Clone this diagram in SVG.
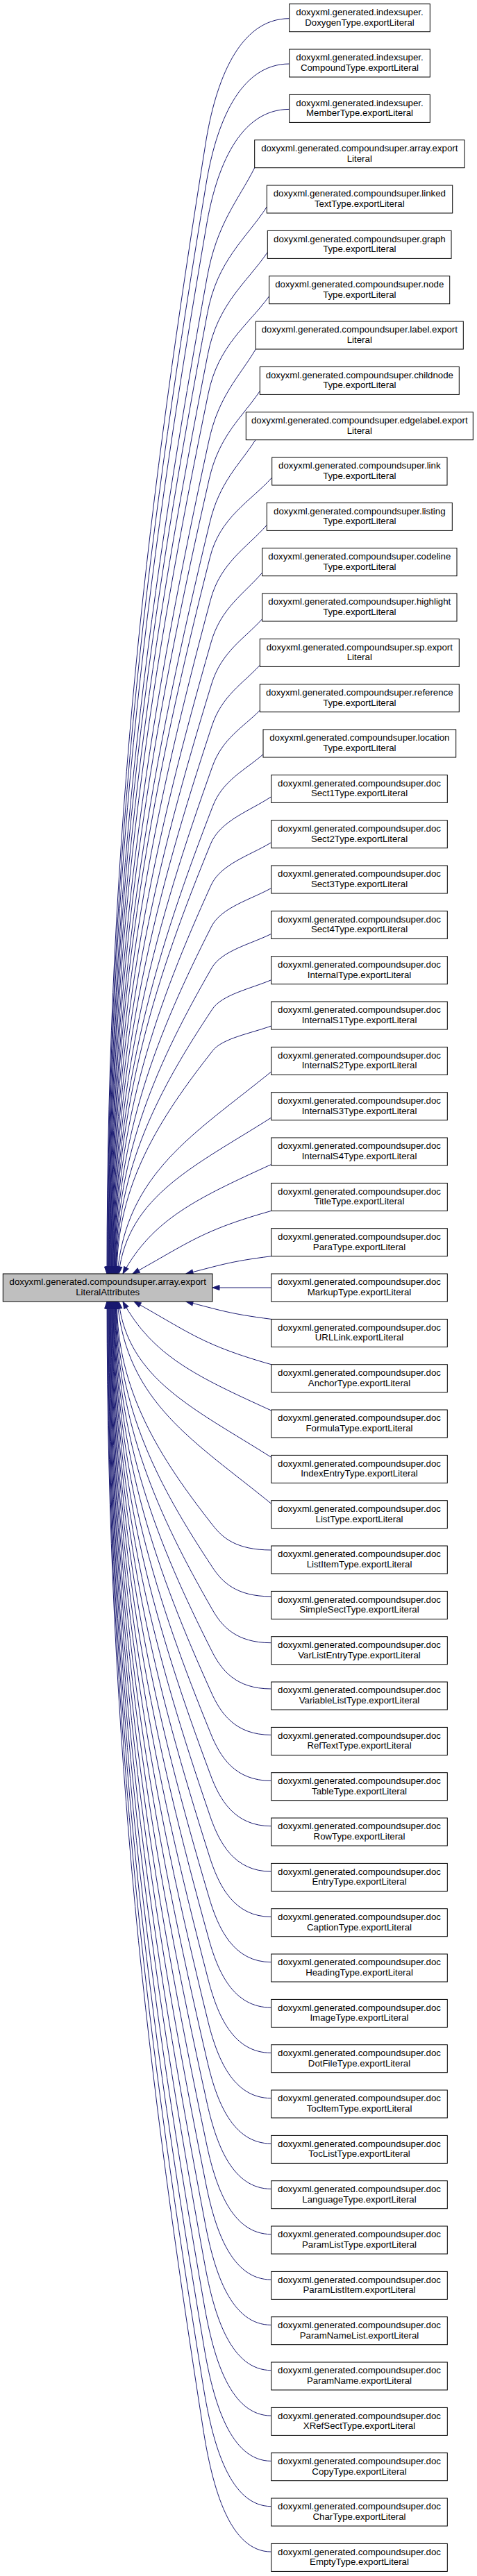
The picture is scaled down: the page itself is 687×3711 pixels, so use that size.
<svg xmlns="http://www.w3.org/2000/svg" width="687" height="3711" viewBox="0 0 687 3711">
<style>
.n rect{fill:#ffffff;stroke:#000000;stroke-width:1}
.root rect{fill:#bfbfbf}
.n text{font-family:"Liberation Sans",Arial,Helvetica,sans-serif;font-size:13.25px;text-anchor:middle;fill:#000000}
.e path{fill:none;stroke:#191970;stroke-width:1;marker-end:url(#arr)}
</style>
<defs>
<marker id="arr" viewBox="-1 -5 12 10" refX="10" refY="0" markerWidth="12" markerHeight="10" markerUnits="userSpaceOnUse" orient="auto">
<path d="M0,-3.5 L10,0 L0,3.5 z" fill="#191970" stroke="#191970" stroke-width="1"/>
</marker>
</defs>
<rect width="687" height="3711" fill="#ffffff"/>
<g id="connectors" class="e">
<path d="M416.7,26.7 C344.3,26.7 310.2,117.1 296,207.5 C217.9,695.7 154,1184 154,1835"/>
<path d="M416.7,92 C344.7,92 310.9,179.1 296.7,266.3 C218.6,736.9 154.7,1207.5 154.7,1835"/>
<path d="M416.7,157.4 C345.1,157.4 311.5,241.3 297.3,325.2 C219.2,778.1 155.3,1231.1 155.3,1835"/>
<path d="M366.7,241.7 C342.7,289.5 312.2,321.3 298,401 C219.9,831.2 156,1261.4 156,1835"/>
<path d="M384.3,298 C354.3,344.1 312.8,374.8 298.6,451.7 C220.5,866.7 156.6,1281.7 156.6,1835"/>
<path d="M385.3,363.4 C355.2,407.5 313.5,437 299.3,510.6 C221.2,907.9 157.3,1305.2 157.3,1835"/>
<path d="M387.7,426.7 C357,468.9 314.1,497.1 299.9,567.5 C221.8,947.7 157.9,1328 157.9,1835"/>
<path d="M368.3,503 C344.6,543 314.8,569.6 300.6,636.2 C222.5,995.8 158.6,1355.5 158.6,1835"/>
<path d="M374.3,563.4 C348.7,601.5 315.4,627 301.2,690.6 C223.1,1033.9 159.2,1377.2 159.2,1835"/>
<path d="M368,633.7 C344.9,669.7 316.1,693.7 301.9,753.8 C223.8,1078.2 159.9,1402.5 159.9,1835"/>
<path d="M391.7,688 C360.5,722.4 316.7,745.3 302.5,802.7 C224.4,1112.4 160.5,1422.1 160.5,1835"/>
<path d="M384.3,756.4 C355.9,788.8 317.4,810.4 303.2,864.3 C225.1,1155.5 161.2,1446.7 161.2,1835"/>
<path d="M377.7,825 C351.8,855.3 318,875.5 303.8,926 C225.7,1198.7 161.8,1471.4 161.8,1835"/>
<path d="M377.7,891.7 C352.1,920 318.7,938.8 304.5,986 C226.4,1240.7 162.5,1495.4 162.5,1835"/>
<path d="M374.3,958.3 C350.1,984.6 319.3,1002.2 305.1,1046 C227,1282.7 163.1,1519.4 163.1,1835"/>
<path d="M374.3,1023.3 C350.3,1047.7 320,1063.9 305.8,1104.5 C227.7,1323.7 163.8,1542.8 163.8,1835"/>
<path d="M379,1086.7 C353.6,1109.1 320.6,1124.1 306.4,1161.5 C228.3,1363.5 164.4,1565.6 164.4,1835"/>
<path d="M390.7,1147.7 C360,1168.3 316.9,1182 303.1,1216.4 C227.2,1402 165.1,1587.6 165.1,1835"/>
<path d="M390.7,1213.7 C360.2,1232.3 317.5,1244.7 303.7,1275.8 C227.8,1443.6 165.7,1611.3 165.7,1835"/>
<path d="M390.7,1279.5 C360.5,1296.2 318.2,1307.3 304.4,1335.1 C228.5,1485.1 166.4,1635 166.4,1835"/>
<path d="M390.7,1345.4 C360.7,1360.1 318.8,1369.9 305,1394.4 C229.1,1526.6 167,1658.7 167,1835"/>
<path d="M390.7,1411.7 C360.9,1424.4 319.5,1432.8 305.7,1454 C229.8,1568.3 167.7,1682.6 167.7,1835"/>
<path d="M390.7,1478 C361.2,1488.7 320.1,1495.8 306.3,1513.7 C230.4,1610.1 168.3,1706.5 168.3,1835"/>
<path d="M390.7,1543.9 C279.8,1634.1 182.3,1689.4 169,1835"/>
<path d="M390.7,1610.1 C280.9,1679.8 184.2,1722.5 171,1835"/>
<path d="M390.7,1677.5 C283.9,1726.3 219.7,1756.3 177,1835"/>
<path d="M390.7,1744.4 C290.9,1772.5 272.9,1789.7 191,1835"/>
<path d="M390.7,1809.7 C329.4,1817.5 318.3,1822.4 268,1835"/>
<path d="M390.7,1855 L306,1855"/>
<path d="M390.7,1900.4 C329.4,1892.5 318.3,1887.7 268,1875"/>
<path d="M390.7,1965.7 C291.9,1937.6 274.1,1920.4 193,1875"/>
<path d="M390.7,2032 C283.9,1983.3 219.7,1953.5 177,1875"/>
<path d="M390.7,2099.4 C280.9,2029.8 184.2,1987.2 171,1875"/>
<path d="M390.7,2166.2 C279.9,2075.9 182.3,2020.6 169,1875"/>
<path d="M390.7,2233 C340.1,2233 320.2,2215.1 306.4,2197.2 C230.5,2100.5 168.4,2003.9 168.4,1875"/>
<path d="M390.7,2299.9 C339.7,2299.9 319.5,2278.6 305.7,2257.4 C229.8,2142.7 167.7,2028 167.7,1875"/>
<path d="M390.7,2366.7 C339.3,2366.7 318.9,2342.1 305.1,2317.5 C229.2,2184.7 167.1,2052 167.1,1875"/>
<path d="M390.7,2433 C338.9,2433 318.2,2405.1 304.4,2377.2 C228.5,2226.5 166.4,2075.9 166.4,1875"/>
<path d="M390.7,2499.4 C338.6,2499.4 317.6,2468.2 303.8,2437 C227.9,2268.4 165.8,2099.8 165.8,1875"/>
<path d="M390.7,2565.4 C338.1,2565.4 316.9,2530.9 303.1,2496.4 C227.2,2310 165.1,2123.5 165.1,1875"/>
<path d="M390.7,2630.7 C337.8,2630.7 316.3,2592.9 302.5,2555.1 C226.6,2351.1 164.5,2147.1 164.5,1875"/>
<path d="M390.7,2696.1 C337.4,2696.1 315.6,2655.1 301.8,2614 C225.9,2392.3 163.8,2170.6 163.8,1875"/>
<path d="M390.7,2761.4 C337,2761.4 315,2717.1 301.2,2672.8 C225.3,2433.5 163.2,2194.1 163.2,1875"/>
<path d="M390.7,2826.7 C336.6,2826.7 314.3,2779.1 300.5,2731.5 C224.6,2474.5 162.5,2217.6 162.5,1875"/>
<path d="M390.7,2892.1 C336.2,2892.1 313.7,2841.3 299.9,2790.4 C224,2515.8 161.9,2241.2 161.9,1875"/>
<path d="M390.7,2957.4 C335.8,2957.4 313,2903.3 299.2,2849.2 C223.3,2557 161.2,2264.7 161.2,1875"/>
<path d="M390.7,3022.7 C335.4,3022.7 312.4,2965.3 298.6,2907.9 C222.7,2598 160.6,2288.2 160.6,1875"/>
<path d="M390.7,3088.1 C335,3088.1 311.7,3027.5 297.9,2966.8 C222,2639.3 159.9,2311.7 159.9,1875"/>
<path d="M390.7,3153.4 C334.7,3153.4 311.1,3089.5 297.3,3025.6 C221.4,2680.4 159.3,2335.2 159.3,1875"/>
<path d="M390.7,3218.7 C334.2,3218.7 310.4,3151.5 296.6,3084.3 C220.7,2721.5 158.6,2358.7 158.6,1875"/>
<path d="M390.7,3284.1 C333.9,3284.1 309.8,3213.7 296,3143.2 C220.1,2762.7 158,2382.3 158,1875"/>
<path d="M390.7,3349.4 C333.5,3349.4 309.1,3275.7 295.3,3202 C219.4,2803.9 157.3,2405.8 157.3,1875"/>
<path d="M390.7,3414.7 C333.1,3414.7 308.5,3337.7 294.7,3260.7 C218.8,2845 156.7,2429.3 156.7,1875"/>
<path d="M390.7,3480.1 C332.7,3480.1 307.8,3399.9 294,3319.6 C218.1,2886.2 156,2452.8 156,1875"/>
<path d="M390.7,3545.4 C332.3,3545.4 307.2,3461.9 293.4,3378.4 C217.5,2927.4 155.4,2476.3 155.4,1875"/>
<path d="M390.7,3610.7 C331.9,3610.7 306.5,3523.9 292.7,3437.1 C216.8,2968.5 154.7,2499.9 154.7,1875"/>
<path d="M390.7,3676.1 C331.5,3676.1 305.9,3586.1 292.1,3496 C216.2,3009.7 154.1,2523.4 154.1,1875"/>
</g>
<g id="root" class="n root" transform="translate(0,1835)"><rect x="4.3" y="0" width="301.7" height="40"/><text x="155.2" y="16.3">doxyxml.generated.compoundsuper.array.export</text><text x="155.2" y="31">LiteralAttributes</text></g>
<g id="n0" class="n" transform="translate(0,5.7)"><rect x="416.7" width="202.6" height="40"/><text x="518" y="16.3">doxyxml.generated.indexsuper.</text><text x="518" y="31">DoxygenType.exportLiteral</text></g>
<g id="n1" class="n" transform="translate(0,71)"><rect x="416.7" width="202.6" height="40"/><text x="518" y="16.3">doxyxml.generated.indexsuper.</text><text x="518" y="31">CompoundType.exportLiteral</text></g>
<g id="n2" class="n" transform="translate(0,136.4)"><rect x="416.7" width="202.6" height="40"/><text x="518" y="16.3">doxyxml.generated.indexsuper.</text><text x="518" y="31">MemberType.exportLiteral</text></g>
<g id="n3" class="n" transform="translate(0,201.7)"><rect x="366.7" width="302.3" height="40"/><text x="517.8" y="16.3">doxyxml.generated.compoundsuper.array.export</text><text x="517.8" y="31">Literal</text></g>
<g id="n4" class="n" transform="translate(0,267)"><rect x="384.3" width="267.4" height="40"/><text x="517.8" y="16.3">doxyxml.generated.compoundsuper.linked</text><text x="517.8" y="31">TextType.exportLiteral</text></g>
<g id="n5" class="n" transform="translate(0,332.4)"><rect x="385.3" width="264.7" height="40"/><text x="517.8" y="16.3">doxyxml.generated.compoundsuper.graph</text><text x="517.8" y="31">Type.exportLiteral</text></g>
<g id="n6" class="n" transform="translate(0,397.7)"><rect x="387.7" width="260" height="40"/><text x="517.8" y="16.3">doxyxml.generated.compoundsuper.node</text><text x="517.8" y="31">Type.exportLiteral</text></g>
<g id="n7" class="n" transform="translate(0,463)"><rect x="368.3" width="299" height="40"/><text x="517.8" y="16.3">doxyxml.generated.compoundsuper.label.export</text><text x="517.8" y="31">Literal</text></g>
<g id="n8" class="n" transform="translate(0,528.4)"><rect x="374.3" width="287" height="40"/><text x="517.8" y="16.3">doxyxml.generated.compoundsuper.childnode</text><text x="517.8" y="31">Type.exportLiteral</text></g>
<g id="n9" class="n" transform="translate(0,593.7)"><rect x="354.3" width="327" height="40"/><text x="517.8" y="16.3">doxyxml.generated.compoundsuper.edgelabel.export</text><text x="517.8" y="31">Literal</text></g>
<g id="n10" class="n" transform="translate(0,659)"><rect x="391.7" width="252.3" height="40"/><text x="517.8" y="16.3">doxyxml.generated.compoundsuper.link</text><text x="517.8" y="31">Type.exportLiteral</text></g>
<g id="n11" class="n" transform="translate(0,724.4)"><rect x="384.3" width="267" height="40"/><text x="517.8" y="16.3">doxyxml.generated.compoundsuper.listing</text><text x="517.8" y="31">Type.exportLiteral</text></g>
<g id="n12" class="n" transform="translate(0,789.7)"><rect x="377.7" width="280.3" height="40"/><text x="517.8" y="16.3">doxyxml.generated.compoundsuper.codeline</text><text x="517.8" y="31">Type.exportLiteral</text></g>
<g id="n13" class="n" transform="translate(0,855)"><rect x="377.7" width="280.3" height="40"/><text x="517.8" y="16.3">doxyxml.generated.compoundsuper.highlight</text><text x="517.8" y="31">Type.exportLiteral</text></g>
<g id="n14" class="n" transform="translate(0,920.4)"><rect x="374.3" width="287" height="40"/><text x="517.8" y="16.3">doxyxml.generated.compoundsuper.sp.export</text><text x="517.8" y="31">Literal</text></g>
<g id="n15" class="n" transform="translate(0,985.7)"><rect x="374.3" width="287" height="40"/><text x="517.8" y="16.3">doxyxml.generated.compoundsuper.reference</text><text x="517.8" y="31">Type.exportLiteral</text></g>
<g id="n16" class="n" transform="translate(0,1051)"><rect x="379" width="277.7" height="40"/><text x="517.8" y="16.3">doxyxml.generated.compoundsuper.location</text><text x="517.8" y="31">Type.exportLiteral</text></g>
<g id="n17" class="n" transform="translate(0,1116.4)"><rect x="390.7" width="253.6" height="40"/><text x="517.5" y="16.3">doxyxml.generated.compoundsuper.doc</text><text x="517.5" y="31">Sect1Type.exportLiteral</text></g>
<g id="n18" class="n" transform="translate(0,1181.7)"><rect x="390.7" width="253.6" height="40"/><text x="517.5" y="16.3">doxyxml.generated.compoundsuper.doc</text><text x="517.5" y="31">Sect2Type.exportLiteral</text></g>
<g id="n19" class="n" transform="translate(0,1247)"><rect x="390.7" width="253.6" height="40"/><text x="517.5" y="16.3">doxyxml.generated.compoundsuper.doc</text><text x="517.5" y="31">Sect3Type.exportLiteral</text></g>
<g id="n20" class="n" transform="translate(0,1312.4)"><rect x="390.7" width="253.6" height="40"/><text x="517.5" y="16.3">doxyxml.generated.compoundsuper.doc</text><text x="517.5" y="31">Sect4Type.exportLiteral</text></g>
<g id="n21" class="n" transform="translate(0,1377.7)"><rect x="390.7" width="253.6" height="40"/><text x="517.5" y="16.3">doxyxml.generated.compoundsuper.doc</text><text x="517.5" y="31">InternalType.exportLiteral</text></g>
<g id="n22" class="n" transform="translate(0,1443)"><rect x="390.7" width="253.6" height="40"/><text x="517.5" y="16.3">doxyxml.generated.compoundsuper.doc</text><text x="517.5" y="31">InternalS1Type.exportLiteral</text></g>
<g id="n23" class="n" transform="translate(0,1508.4)"><rect x="390.7" width="253.6" height="40"/><text x="517.5" y="16.3">doxyxml.generated.compoundsuper.doc</text><text x="517.5" y="31">InternalS2Type.exportLiteral</text></g>
<g id="n24" class="n" transform="translate(0,1573.7)"><rect x="390.7" width="253.6" height="40"/><text x="517.5" y="16.3">doxyxml.generated.compoundsuper.doc</text><text x="517.5" y="31">InternalS3Type.exportLiteral</text></g>
<g id="n25" class="n" transform="translate(0,1639)"><rect x="390.7" width="253.6" height="40"/><text x="517.5" y="16.3">doxyxml.generated.compoundsuper.doc</text><text x="517.5" y="31">InternalS4Type.exportLiteral</text></g>
<g id="n26" class="n" transform="translate(0,1704.4)"><rect x="390.7" width="253.6" height="40"/><text x="517.5" y="16.3">doxyxml.generated.compoundsuper.doc</text><text x="517.5" y="31">TitleType.exportLiteral</text></g>
<g id="n27" class="n" transform="translate(0,1769.7)"><rect x="390.7" width="253.6" height="40"/><text x="517.5" y="16.3">doxyxml.generated.compoundsuper.doc</text><text x="517.5" y="31">ParaType.exportLiteral</text></g>
<g id="n28" class="n" transform="translate(0,1835)"><rect x="390.7" width="253.6" height="40"/><text x="517.5" y="16.3">doxyxml.generated.compoundsuper.doc</text><text x="517.5" y="31">MarkupType.exportLiteral</text></g>
<g id="n29" class="n" transform="translate(0,1900.4)"><rect x="390.7" width="253.6" height="40"/><text x="517.5" y="16.3">doxyxml.generated.compoundsuper.doc</text><text x="517.5" y="31">URLLink.exportLiteral</text></g>
<g id="n30" class="n" transform="translate(0,1965.7)"><rect x="390.7" width="253.6" height="40"/><text x="517.5" y="16.3">doxyxml.generated.compoundsuper.doc</text><text x="517.5" y="31">AnchorType.exportLiteral</text></g>
<g id="n31" class="n" transform="translate(0,2031)"><rect x="390.7" width="253.6" height="40"/><text x="517.5" y="16.3">doxyxml.generated.compoundsuper.doc</text><text x="517.5" y="31">FormulaType.exportLiteral</text></g>
<g id="n32" class="n" transform="translate(0,2096.4)"><rect x="390.7" width="253.6" height="40"/><text x="517.5" y="16.3">doxyxml.generated.compoundsuper.doc</text><text x="517.5" y="31">IndexEntryType.exportLiteral</text></g>
<g id="n33" class="n" transform="translate(0,2161.7)"><rect x="390.7" width="253.6" height="40"/><text x="517.5" y="16.3">doxyxml.generated.compoundsuper.doc</text><text x="517.5" y="31">ListType.exportLiteral</text></g>
<g id="n34" class="n" transform="translate(0,2227)"><rect x="390.7" width="253.6" height="40"/><text x="517.5" y="16.3">doxyxml.generated.compoundsuper.doc</text><text x="517.5" y="31">ListItemType.exportLiteral</text></g>
<g id="n35" class="n" transform="translate(0,2292.4)"><rect x="390.7" width="253.6" height="40"/><text x="517.5" y="16.3">doxyxml.generated.compoundsuper.doc</text><text x="517.5" y="31">SimpleSectType.exportLiteral</text></g>
<g id="n36" class="n" transform="translate(0,2357.7)"><rect x="390.7" width="253.6" height="40"/><text x="517.5" y="16.3">doxyxml.generated.compoundsuper.doc</text><text x="517.5" y="31">VarListEntryType.exportLiteral</text></g>
<g id="n37" class="n" transform="translate(0,2423)"><rect x="390.7" width="253.6" height="40"/><text x="517.5" y="16.3">doxyxml.generated.compoundsuper.doc</text><text x="517.5" y="31">VariableListType.exportLiteral</text></g>
<g id="n38" class="n" transform="translate(0,2488.4)"><rect x="390.7" width="253.6" height="40"/><text x="517.5" y="16.3">doxyxml.generated.compoundsuper.doc</text><text x="517.5" y="31">RefTextType.exportLiteral</text></g>
<g id="n39" class="n" transform="translate(0,2553.7)"><rect x="390.7" width="253.6" height="40"/><text x="517.5" y="16.3">doxyxml.generated.compoundsuper.doc</text><text x="517.5" y="31">TableType.exportLiteral</text></g>
<g id="n40" class="n" transform="translate(0,2619)"><rect x="390.7" width="253.6" height="40"/><text x="517.5" y="16.3">doxyxml.generated.compoundsuper.doc</text><text x="517.5" y="31">RowType.exportLiteral</text></g>
<g id="n41" class="n" transform="translate(0,2684.4)"><rect x="390.7" width="253.6" height="40"/><text x="517.5" y="16.3">doxyxml.generated.compoundsuper.doc</text><text x="517.5" y="31">EntryType.exportLiteral</text></g>
<g id="n42" class="n" transform="translate(0,2749.7)"><rect x="390.7" width="253.6" height="40"/><text x="517.5" y="16.3">doxyxml.generated.compoundsuper.doc</text><text x="517.5" y="31">CaptionType.exportLiteral</text></g>
<g id="n43" class="n" transform="translate(0,2815)"><rect x="390.7" width="253.6" height="40"/><text x="517.5" y="16.3">doxyxml.generated.compoundsuper.doc</text><text x="517.5" y="31">HeadingType.exportLiteral</text></g>
<g id="n44" class="n" transform="translate(0,2880.4)"><rect x="390.7" width="253.6" height="40"/><text x="517.5" y="16.3">doxyxml.generated.compoundsuper.doc</text><text x="517.5" y="31">ImageType.exportLiteral</text></g>
<g id="n45" class="n" transform="translate(0,2945.7)"><rect x="390.7" width="253.6" height="40"/><text x="517.5" y="16.3">doxyxml.generated.compoundsuper.doc</text><text x="517.5" y="31">DotFileType.exportLiteral</text></g>
<g id="n46" class="n" transform="translate(0,3011)"><rect x="390.7" width="253.6" height="40"/><text x="517.5" y="16.3">doxyxml.generated.compoundsuper.doc</text><text x="517.5" y="31">TocItemType.exportLiteral</text></g>
<g id="n47" class="n" transform="translate(0,3076.4)"><rect x="390.7" width="253.6" height="40"/><text x="517.5" y="16.3">doxyxml.generated.compoundsuper.doc</text><text x="517.5" y="31">TocListType.exportLiteral</text></g>
<g id="n48" class="n" transform="translate(0,3141.7)"><rect x="390.7" width="253.6" height="40"/><text x="517.5" y="16.3">doxyxml.generated.compoundsuper.doc</text><text x="517.5" y="31">LanguageType.exportLiteral</text></g>
<g id="n49" class="n" transform="translate(0,3207)"><rect x="390.7" width="253.6" height="40"/><text x="517.5" y="16.3">doxyxml.generated.compoundsuper.doc</text><text x="517.5" y="31">ParamListType.exportLiteral</text></g>
<g id="n50" class="n" transform="translate(0,3272.4)"><rect x="390.7" width="253.6" height="40"/><text x="517.5" y="16.3">doxyxml.generated.compoundsuper.doc</text><text x="517.5" y="31">ParamListItem.exportLiteral</text></g>
<g id="n51" class="n" transform="translate(0,3337.7)"><rect x="390.7" width="253.6" height="40"/><text x="517.5" y="16.3">doxyxml.generated.compoundsuper.doc</text><text x="517.5" y="31">ParamNameList.exportLiteral</text></g>
<g id="n52" class="n" transform="translate(0,3403)"><rect x="390.7" width="253.6" height="40"/><text x="517.5" y="16.3">doxyxml.generated.compoundsuper.doc</text><text x="517.5" y="31">ParamName.exportLiteral</text></g>
<g id="n53" class="n" transform="translate(0,3468.4)"><rect x="390.7" width="253.6" height="40"/><text x="517.5" y="16.3">doxyxml.generated.compoundsuper.doc</text><text x="517.5" y="31">XRefSectType.exportLiteral</text></g>
<g id="n54" class="n" transform="translate(0,3533.7)"><rect x="390.7" width="253.6" height="40"/><text x="517.5" y="16.3">doxyxml.generated.compoundsuper.doc</text><text x="517.5" y="31">CopyType.exportLiteral</text></g>
<g id="n55" class="n" transform="translate(0,3599)"><rect x="390.7" width="253.6" height="40"/><text x="517.5" y="16.3">doxyxml.generated.compoundsuper.doc</text><text x="517.5" y="31">CharType.exportLiteral</text></g>
<g id="n56" class="n" transform="translate(0,3664.4)"><rect x="390.7" width="253.6" height="40"/><text x="517.5" y="16.3">doxyxml.generated.compoundsuper.doc</text><text x="517.5" y="31">EmptyType.exportLiteral</text></g>
</svg>
